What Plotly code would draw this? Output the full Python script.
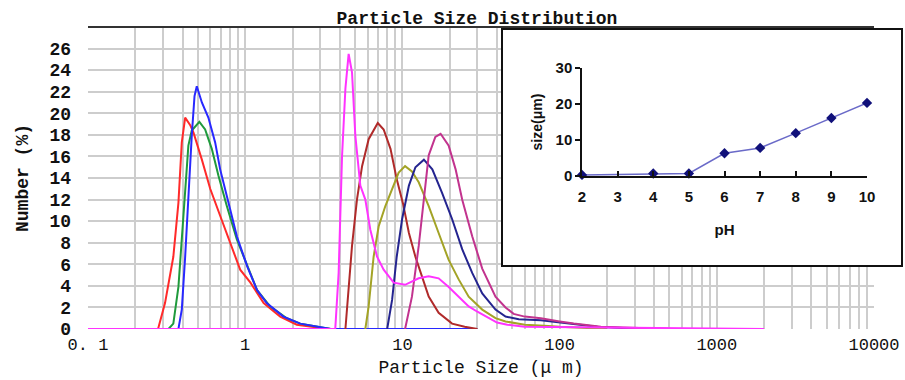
import plotly.graph_objects as go

# ---------------- data: main particle size distributions ----------------
red_x = [0.279, 0.309, 0.349, 0.376, 0.395, 0.415, 0.447, 0.469, 0.530, 0.599, 0.693, 0.802, 0.929, 1.08, 1.31, 1.67, 2.13, 2.8, 3.5]
red_y = [0, 2.4, 6.7, 11.7, 17.3, 19.6, 18.9, 18.2, 15.7, 13.0, 10.5, 8.0, 5.5, 4.3, 2.4, 1.15, 0.4, 0.15, 0]

green_x = [0.325, 0.349, 0.376, 0.395, 0.415, 0.435, 0.457, 0.511, 0.556, 0.613, 0.676, 0.764, 0.885, 1.03, 1.19, 1.44, 1.84, 2.24, 2.9, 3.5]
green_y = [0, 0.5, 3.9, 8.6, 13.3, 17.0, 18.4, 19.2, 18.5, 16.7, 14.2, 11.4, 8.3, 5.8, 3.6, 2.1, 1.0, 0.5, 0.2, 0]

blue_x = [0.376, 0.395, 0.415, 0.435, 0.457, 0.476, 0.492, 0.530, 0.583, 0.644, 0.693, 0.783, 0.885, 1.03, 1.19, 1.37, 1.75, 2.24, 2.9, 3.5, 30]
blue_y = [0, 1.8, 6.7, 12.3, 17.9, 21.6, 22.5, 21.0, 19.6, 17.3, 14.8, 11.7, 8.6, 5.8, 3.6, 2.4, 1.15, 0.5, 0.2, 0, 0]

brown_x = [4.34, 4.55, 4.78, 5.14, 5.54, 6.1, 6.97, 7.6, 8.4, 9.2, 10.1, 11.0, 12.1, 13.3, 14.7, 17.0, 20.7, 24.9, 30]
brown_y = [0, 3.6, 7.7, 12.0, 15.1, 17.6, 19.1, 18.5, 16.7, 13.9, 11.6, 8.9, 6.7, 4.9, 3.0, 1.5, 0.5, 0.2, 0]

olive_x = [5.81, 6.1, 6.56, 7.06, 7.79, 8.6, 9.47, 10.4, 11.5, 12.7, 14.7, 17.0, 19.7, 22.8, 26.4, 32.2, 39.1, 45.3, 60, 80, 100, 150, 200]
olive_y = [0, 2.1, 6.7, 9.5, 11.4, 13.0, 14.5, 15.1, 14.6, 13.6, 11.4, 8.9, 6.4, 4.6, 3.0, 1.8, 1.0, 0.7, 0.4, 0.3, 0.2, 0.1, 0]

navy_x = [8.0, 8.6, 9.2, 9.96, 11.0, 12.1, 13.7, 15.5, 17.9, 20.7, 24.0, 27.8, 32.2, 39.1, 45.3, 55, 76, 100, 123, 174, 250, 400, 500]
navy_y = [0, 2.7, 6.7, 10.2, 13.3, 15.0, 15.7, 14.8, 12.6, 10.2, 7.4, 5.2, 3.3, 1.8, 1.15, 0.9, 0.8, 0.6, 0.4, 0.2, 0.1, 0.05, 0]

purple_x = [10.4, 11.5, 12.7, 13.7, 14.7, 16.2, 17.5, 19.7, 21.8, 24.0, 27.8, 32.2, 39.1, 45.3, 51, 60, 76, 100, 123, 183, 300, 500]
purple_y = [0, 3.0, 7.7, 12.3, 16.1, 17.8, 18.1, 17.0, 14.8, 12.0, 8.6, 5.6, 3.0, 2.0, 1.4, 1.15, 1.0, 0.7, 0.5, 0.2, 0.1, 0]

magenta_x = [0.1, 3.74, 3.93, 4.13, 4.34, 4.55, 4.78, 5.02, 5.40, 5.81, 6.25, 6.9, 7.6, 8.8, 10.4, 12.7, 14.7, 17.0, 19.7, 22.8, 26.4, 30, 34, 40, 46.5, 60, 2000]
magenta_y = [0, 0, 5.2, 16.0, 22.3, 25.5, 23.8, 17.9, 13.3, 12.0, 9.2, 6.7, 5.5, 4.3, 4.1, 4.7, 4.9, 4.7, 3.9, 3.0, 2.1, 1.6, 1.15, 0.6, 0.4, 0.2, 0]

x_tick_vals = [0.1, 1, 10, 100, 1000, 10000]
x_tick_text = ["0. 1", "1", "10", "100", "1000", "10000"]
y_tick_vals = list(range(0, 27, 2))

# ---------------- data: inset (size vs pH) ----------------
ph = [2, 4, 5, 6, 7, 8, 9, 10]
size_um = [0.3, 0.7, 0.7, 6.3, 7.8, 11.9, 16.1, 20.3]
inset_x_ticks = [2, 3, 4, 5, 6, 7, 8, 9, 10]
inset_y_ticks = [0, 10, 20, 30]

series = [
    (red_x, red_y, "#ff2a2a"),
    (green_x, green_y, "#1f9a3c"),
    (blue_x, blue_y, "#2828ff"),
    (brown_x, brown_y, "#b02a2a"),
    (olive_x, olive_y, "#a3a326"),
    (navy_x, navy_y, "#24248f"),
    (purple_x, purple_y, "#c2338e"),
    (magenta_x, magenta_y, "#ff33ff"),
]

fig = go.Figure()
for xs, ys, col in series:
    fig.add_trace(go.Scatter(x=xs, y=ys, mode="lines", line=dict(color=col, width=2),
                             showlegend=False, hoverinfo="skip"))

# inset box (blank subplot covering the main plot)
fig.add_trace(go.Scatter(x=[None], y=[None], xaxis="x2", yaxis="y2", showlegend=False))
# inset data
fig.add_trace(go.Scatter(x=ph, y=size_um, xaxis="x3", yaxis="y3", mode="lines+markers",
                         line=dict(color="#6a6ac8", width=1.5),
                         marker=dict(symbol="diamond", size=8, color="#10107a"),
                         cliponaxis=False, showlegend=False))

minor_vals = [d * 10 ** k for k in range(-1, 4) for d in range(2, 10)]
grid_col = "#cdcdcd"
mono = "Liberation Mono"

W_PAPER = 905 - 88 - 2  # paper width in px
main_right = 786 / W_PAPER

def px_x(p):
    return (p - 88) / W_PAPER

def px_y(p):
    return (329 - p) / 302

fig.update_layout(
    width=905, height=380,
    margin=dict(l=88, r=2, t=27, b=51, autoexpand=False),
    paper_bgcolor="white", plot_bgcolor="white",
    title=dict(text="<b>Particle Size Distribution</b>", xref="container", yref="container",
               x=477 / 905, y=1 - 18 / 380, xanchor="center", yanchor="middle",
               font=dict(family=mono, size=18, color="#111")),
    xaxis=dict(type="log", range=[-1, 4], domain=[0, main_right], automargin=False,
               tickmode="array", tickvals=x_tick_vals, ticktext=x_tick_text,
               showgrid=True, gridcolor=grid_col, gridwidth=2,
               minor=dict(tickmode="array", tickvals=minor_vals, showgrid=True,
                          gridcolor=grid_col, gridwidth=2, ticks=""),
               ticks="", showline=False, zeroline=False, ticklabelstandoff=3,
               tickfont=dict(family=mono, size=17, color="#111"),
               title=dict(text="Particle Size (\u03bc m)", standoff=6,
                          font=dict(family=mono, size=18, color="#111"))),
    yaxis=dict(range=[0, 28], domain=[0, 1], automargin=False,
               tickmode="array", tickvals=y_tick_vals,
               showgrid=True, gridcolor=grid_col, gridwidth=2,
               minor=dict(tickmode="array", tickvals=[28], showgrid=True, gridcolor=grid_col),
               ticks="", showline=False, zeroline=False, ticklabelstandoff=16,
               tickfont=dict(family=mono, size=18, color="#111", weight="bold"),
               title=dict(text="<b>Number (%)</b>", standoff=16,
                          font=dict(family=mono, size=18, color="#111"))),
    xaxis2=dict(domain=[px_x(503), px_x(901)], range=[0, 1], anchor="y2", automargin=False,
                showgrid=False, zeroline=False, showticklabels=False, ticks="",
                showline=True, mirror=True, linecolor="#111", linewidth=2, fixedrange=True),
    yaxis2=dict(domain=[px_y(265), px_y(30)], range=[0, 1], anchor="x2", automargin=False,
                showgrid=False, zeroline=False, showticklabels=False, ticks="",
                showline=True, mirror=True, linecolor="#111", linewidth=2, fixedrange=True),
    xaxis3=dict(domain=[px_x(582), px_x(867)], range=[2, 10], anchor="y3", automargin=False,
                tickmode="array", tickvals=inset_x_ticks, showgrid=False, zeroline=False,
                showline=True, linecolor="#111", linewidth=2,
                ticks="inside", ticklen=5, tickwidth=1.5, tickcolor="#111",
                ticklabelstandoff=6,
                tickfont=dict(family="Liberation Sans", size=15, color="#111", weight="bold"),
                title=dict(text="<b>pH</b>", standoff=20,
                           font=dict(family="Liberation Sans", size=15, color="#111"))),
    yaxis3=dict(domain=[px_y(176), px_y(68)], range=[0, 30], anchor="x3", automargin=False,
                tickmode="array", tickvals=inset_y_ticks, showgrid=False, zeroline=False,
                showline=True, linecolor="#111", linewidth=1.5,
                ticks="outside", ticklen=5, tickwidth=1.5, tickcolor="#111",
                tickfont=dict(family="Liberation Sans", size=15, color="#111", weight="bold"),
                title=dict(text="<b>size(\u03bcm)</b>", standoff=10,
                           font=dict(family="Liberation Sans", size=14, color="#111"))),
    shapes=[dict(type="line", xref="paper", yref="paper", x0=0, x1=main_right, y0=1, y1=1,
                 line=dict(color="#333", width=2), layer="above")],
)

fig.write_html("out.html")
